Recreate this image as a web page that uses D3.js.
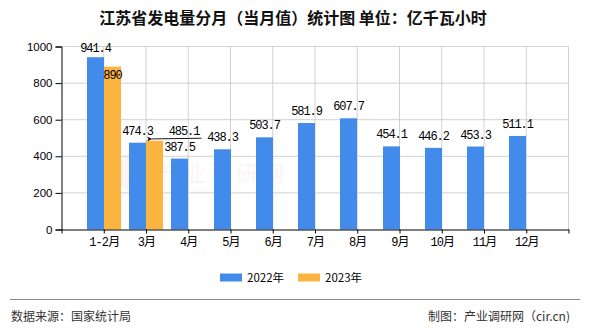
<!DOCTYPE html>
<html><head><meta charset="utf-8">
<script src="https://cdn.jsdelivr.net/npm/d3@7"></script>
<style>
html,body{margin:0;padding:0;background:#fff;}
svg{display:block;}
</style></head>
<body>
<svg id="chart" width="590" height="330"></svg>
<script>
const categories = ["1-2月","3月","4月","5月","6月","7月","8月","9月","10月","11月","12月"];
const values2022 = [941.4,474.3,387.5,438.3,503.7,581.9,607.7,454.1,446.2,453.3,511.1];
const values2023 = [890,485.1];
const seriesNames = ["2022年","2023年"];
const seriesColors = ["#428BEB","#FCB441"];
const yTicks = [0,200,400,600,800,1000];
const titleText = "江苏省发电量分月（当月值）统计图 单位：亿千瓦小时";
const sourceText = "数据来源：国家统计局";
const makerText = "制图：产业调研网（cir.cn)";

(function () {
const svg = d3.select("#chart");
const monoFont = "'Liberation Mono','Noto Sans CJK SC',monospace";
const cjkFont = "'Noto Sans CJK SC','Liberation Sans',sans-serif";

const pl = 61.5, pr = 568.5, pt = 46.5, pb = 229.5;
const x = d3.scalePoint().domain(["_s", ...categories, "_e"]).range([pl, pr]);
const y = d3.scaleLinear().domain([0, 1000]).range([pb, pt]);
const barW = 17;

// title
svg.append("text").attr("x", 293).attr("y", 24).attr("text-anchor", "middle")
  .attr("font-family", cjkFont).attr("font-size", 16).attr("font-weight", "bold")
  .attr("fill", "#111").text(titleText);

// watermark
const wm = svg.append("g").attr("opacity", 0.05);
wm.append("circle").attr("cx", 133).attr("cy", 173).attr("r", 18).attr("fill", "#e03020");
wm.append("text").attr("x", 158).attr("y", 181).attr("font-family", cjkFont).attr("font-size", 22)
  .attr("fill", "#e03020").attr("letter-spacing", 4).text("产业调研网");
wm.append("text").attr("x", 182).attr("y", 194).attr("font-family", monoFont).attr("font-size", 9)
  .attr("fill", "#e03020").attr("letter-spacing", 5).text("www.cir.cn");

// grid
const grid = svg.append("g").attr("stroke", "#d0d0d0").attr("stroke-width", 1);
yTicks.filter(t => t > 0).forEach(t => {
  grid.append("line").attr("x1", pl).attr("x2", pr).attr("y1", y(t)).attr("y2", y(t));
});
x.domain().slice(1).forEach(c => {
  grid.append("line").attr("x1", x(c)).attr("x2", x(c)).attr("y1", pt).attr("y2", pb);
});

// bars
const g2022 = svg.append("g").attr("fill", seriesColors[0]);
values2022.forEach((v, i) => {
  const cx = Math.round(x(categories[i]));
  g2022.append("rect").attr("x", cx - barW).attr("width", barW)
    .attr("y", y(v)).attr("height", y(0) - y(v));
});
const g2023 = svg.append("g").attr("fill", seriesColors[1]);
values2023.forEach((v, i) => {
  const cx = Math.round(x(categories[i]));
  g2023.append("rect").attr("x", cx).attr("width", barW)
    .attr("y", y(v)).attr("height", y(0) - y(v));
});

// axes
const yAxis = d3.axisLeft(y).tickValues(yTicks).tickFormat(d3.format("d")).tickSize(6).tickPadding(3);
const yg = svg.append("g").attr("transform", `translate(${pl},0)`).call(yAxis);
yg.select(".domain").attr("stroke", "#000");
yg.selectAll(".tick line").attr("stroke", "#000");
yg.selectAll("text").attr("font-family", "'Liberation Sans',Arial,sans-serif").attr("font-size", 11.5).attr("fill", "#000");

const xAxis = d3.axisBottom(x).tickSize(4).tickSizeOuter(0).tickPadding(4)
  .tickFormat(d => (d === "_s" || d === "_e") ? "" : d);
const xg = svg.append("g").attr("transform", `translate(0,${pb})`).call(xAxis);
xg.select(".domain").attr("stroke", "#000");
xg.selectAll(".tick line").attr("stroke", "#000");
xg.selectAll("text").attr("font-family", monoFont).attr("font-size", 12).attr("fill", "#000")
  .attr("letter-spacing", -0.9);

// value labels
const lab = svg.append("g").attr("font-family", monoFont).attr("font-size", 12)
  .attr("fill", "#000").attr("text-anchor", "middle").attr("letter-spacing", -1.1);
values2022.forEach((v, i) => {
  const cx = Math.round(x(categories[i])) - barW / 2;
  lab.append("text").attr("x", cx).attr("y", Math.max(y(v) - 8, 52)).text(v);
});
{
  const v = values2023[0];
  const cx = Math.round(x(categories[0])) + barW / 2;
  lab.append("text").attr("x", cx).attr("y", y(v) + 12).text(v);
}
{
  const v = values2023[1];
  const bx = Math.round(x(categories[1])) + barW / 2;
  const lx = bx + 30;
  lab.append("text").attr("x", lx - 0.5).attr("y", y(v) - 6).text(v);
  svg.append("defs").append("marker").attr("id", "arr").attr("viewBox", "0 0 10 10")
    .attr("refX", 1).attr("refY", 5).attr("markerWidth", 7).attr("markerHeight", 5)
    .attr("markerUnits", "userSpaceOnUse")
    .attr("orient", "auto")
    .append("path").attr("d", "M0,5 L10,0 L7,5 L10,10 Z").attr("fill", "#000");
  svg.append("line").attr("x1", lx + 17).attr("y1", y(v) - 2.5).attr("x2", bx - 3).attr("y2", y(v) - 1.8)
    .attr("stroke", "#000").attr("stroke-width", 0.9).attr("marker-end", "url(#arr)");
}

// legend
const leg = svg.append("g");
const legX = [220, 298];
seriesNames.forEach((n, i) => {
  leg.append("rect").attr("x", legX[i]).attr("y", 273.5).attr("width", 22).attr("height", 8)
    .attr("fill", seriesColors[i]);
  leg.append("text").attr("x", legX[i] + 27).attr("y", 282).attr("font-family", cjkFont)
    .attr("font-size", 11.5).attr("fill", "#000").text(n);
});

// footer
svg.append("line").attr("x1", 10).attr("x2", 580).attr("y1", 299.5).attr("y2", 299.5)
  .attr("stroke", "#888").attr("stroke-width", 1);
svg.append("text").attr("x", 11).attr("y", 321).attr("font-family", cjkFont).attr("font-size", 12)
  .attr("fill", "#333").text(sourceText);
svg.append("text").attr("x", 570).attr("y", 321).attr("text-anchor", "end").attr("font-family", cjkFont)
  .attr("font-size", 12).attr("fill", "#333").text(makerText);
})();
</script>
</body></html>
